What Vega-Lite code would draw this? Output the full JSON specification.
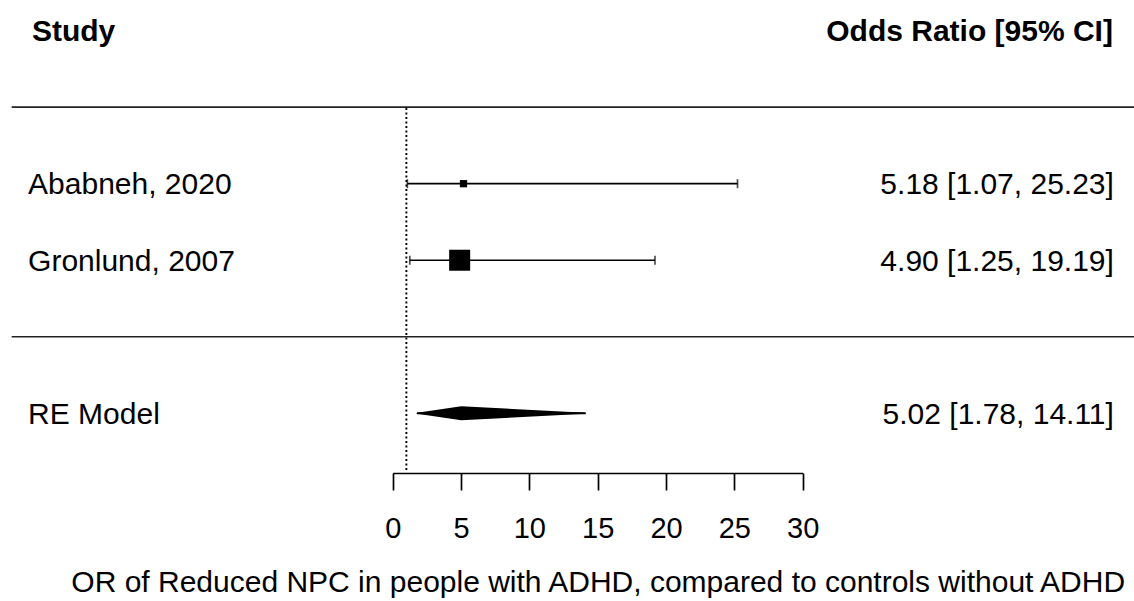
{
  "$schema": "https://vega.github.io/schema/vega-lite/v6.json",
  "width": 1134,
  "height": 473,
  "autosize": {"type": "none"},
  "padding": {"left": 0, "top": 0, "right": 0, "bottom": 128},
  "background": "white",
  "config": {"view": {"stroke": null}, "font": "Liberation Sans"},
  "datasets": {
    "forest": [
      {"study": "Ababneh, 2020", "kind": "study", "row": 2, "or": 5.18, "lo": 1.07, "hi": 25.23, "weight": 42.8, "label": "5.18 [1.07, 25.23]"},
      {"study": "Gronlund, 2007", "kind": "study", "row": 1, "or": 4.90, "lo": 1.25, "hi": 19.19, "weight": 57.2, "label": "4.90 [1.25, 19.19]"},
      {"study": "RE Model", "kind": "model", "row": -1, "or": 5.02, "lo": 1.78, "hi": 14.11, "weight": 100, "label": "5.02 [1.78, 14.11]"}
    ],
    "header": [{"row": 4, "left": "Study", "right": "Odds Ratio [95% CI]"}],
    "separators": [{"row": 3}, {"row": 0}],
    "reference": [{"ref": 1}]
  },
  "layer": [
    {
      "data": {"name": "forest"},
      "transform": [{"filter": "datum.kind === 'study'"}],
      "mark": {"type": "rule", "strokeWidth": 1.7, "color": "black"},
      "encoding": {
        "x": {
          "field": "lo", "type": "quantitative",
          "scale": {"domain": [0, 30], "range": [392.7, 802.7], "nice": false, "zero": false},
          "axis": {
            "values": [0, 5, 10, 15, 20, 25, 30],
            "grid": false,
            "domainColor": "black", "domainWidth": 1.7,
            "tickColor": "black", "tickWidth": 1.7, "tickSize": 17,
            "labelFont": "Liberation Sans", "labelFontSize": 29, "labelColor": "black",
            "labelPadding": 24, "labelFlush": false,
            "title": "OR of Reduced NPC in people with ADHD, compared to controls without ADHD",
            "titleFont": "Liberation Sans", "titleFontSize": 30, "titleFontWeight": "normal",
            "titleColor": "black", "titlePadding": 24
          }
        },
        "x2": {"field": "hi"},
        "y": {"field": "row", "type": "quantitative", "scale": {"domain": [-1.78, 4.4], "nice": false, "zero": false}, "axis": null}
      }
    },
    {
      "data": {"name": "forest"},
      "transform": [{"filter": "datum.kind === 'study'"}, {"fold": ["lo", "hi"], "as": ["end", "bound"]}],
      "mark": {"type": "tick", "orient": "vertical", "size": 9, "thickness": 1.7, "color": "black"},
      "encoding": {
        "x": {"field": "bound", "type": "quantitative"},
        "y": {"field": "row", "type": "quantitative", "axis": null}
      }
    },
    {
      "data": {"name": "forest"},
      "transform": [{"filter": "datum.kind === 'study'"}],
      "mark": {"type": "square", "filled": true, "opacity": 1, "color": "black"},
      "encoding": {
        "x": {"field": "or", "type": "quantitative"},
        "y": {"field": "row", "type": "quantitative", "axis": null},
        "size": {"field": "weight", "type": "quantitative", "scale": {"domain": [42.8, 57.2], "range": [53, 441]}, "legend": null}
      }
    },
    {
      "data": {"name": "forest"},
      "transform": [{"filter": "datum.kind === 'model'"}],
      "mark": {"type": "rule", "strokeWidth": 2, "color": "black"},
      "encoding": {
        "x": {"field": "lo", "type": "quantitative"},
        "x2": {"field": "hi"},
        "y": {"field": "row", "type": "quantitative", "axis": null}
      }
    },
    {
      "data": {"name": "forest"},
      "transform": [{"filter": "datum.kind === 'model'"}, {"fold": ["lo", "or", "hi"], "as": ["part", "value"]}],
      "mark": {"type": "trail", "color": "black"},
      "encoding": {
        "x": {"field": "value", "type": "quantitative"},
        "y": {"field": "row", "type": "quantitative", "axis": null},
        "size": {"field": "part", "type": "ordinal", "scale": {"type": "ordinal", "domain": ["lo", "or", "hi"], "range": [0, 14, 0]}, "legend": null}
      }
    },
    {
      "data": {"name": "reference"},
      "mark": {"type": "rule", "strokeWidth": 1.9, "strokeDash": [2, 2.5], "color": "black"},
      "encoding": {
        "x": {"field": "ref", "type": "quantitative"},
        "y": {"datum": -1.74, "type": "quantitative", "axis": null},
        "y2": {"datum": 3}
      }
    },
    {
      "data": {"name": "separators"},
      "mark": {"type": "rule", "strokeWidth": 1.7, "color": "#222222"},
      "encoding": {
        "x": {"datum": -27.88, "type": "quantitative"},
        "x2": {"datum": 54.3},
        "y": {"field": "row", "type": "quantitative", "axis": null}
      }
    },
    {
      "data": {"name": "forest"},
      "mark": {"type": "text", "align": "left", "baseline": "middle", "dy": 1.5, "fontSize": 30, "font": "Liberation Sans", "color": "black"},
      "encoding": {
        "x": {"datum": -26.68, "type": "quantitative"},
        "y": {"field": "row", "type": "quantitative", "axis": null},
        "text": {"field": "study"}
      }
    },
    {
      "data": {"name": "forest"},
      "mark": {"type": "text", "align": "right", "baseline": "middle", "dy": 1.5, "fontSize": 30, "font": "Liberation Sans", "color": "black"},
      "encoding": {
        "x": {"datum": 52.77, "type": "quantitative"},
        "y": {"field": "row", "type": "quantitative", "axis": null},
        "text": {"field": "label"}
      }
    },
    {
      "data": {"name": "header"},
      "mark": {"type": "text", "align": "left", "baseline": "middle", "dy": 1.5, "fontSize": 30, "fontWeight": "bold", "font": "Liberation Sans", "color": "black"},
      "encoding": {
        "x": {"datum": -26.4, "type": "quantitative"},
        "y": {"field": "row", "type": "quantitative", "axis": null},
        "text": {"field": "left"}
      }
    },
    {
      "data": {"name": "header"},
      "mark": {"type": "text", "align": "right", "baseline": "middle", "dy": 1.5, "fontSize": 30, "fontWeight": "bold", "font": "Liberation Sans", "color": "black"},
      "encoding": {
        "x": {"datum": 52.7, "type": "quantitative"},
        "y": {"field": "row", "type": "quantitative", "axis": null},
        "text": {"field": "right"}
      }
    }
  ]
}
